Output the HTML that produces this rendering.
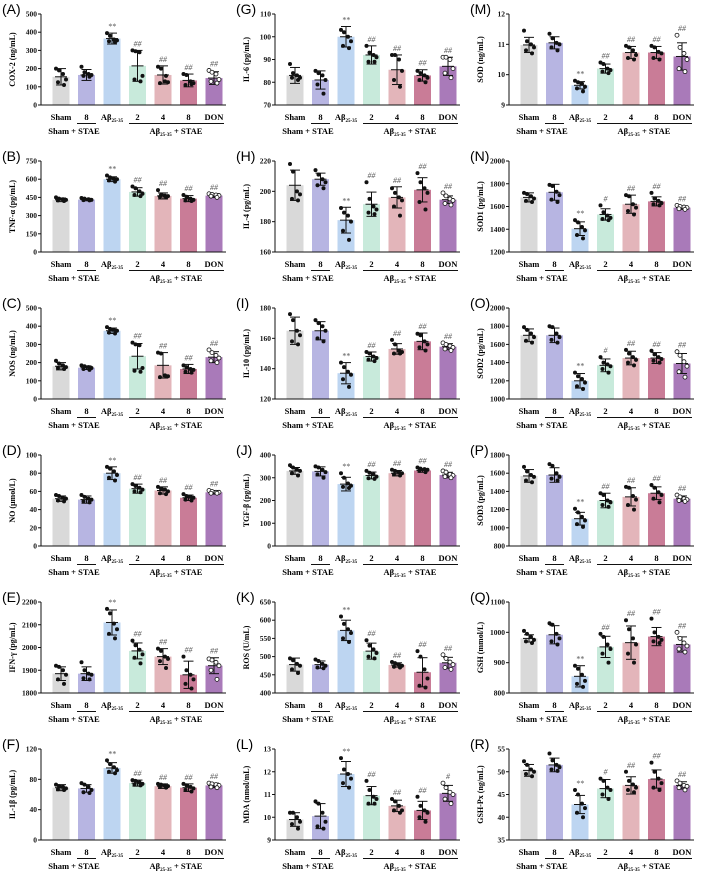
<!DOCTYPE html>
<html><head><meta charset="utf-8">
<style>
html,body{margin:0;padding:0;background:#fff;}
svg{display:block;font-family:"Liberation Serif",serif;}
</style></head>
<body>
<svg id="fig" width="702" height="873" viewBox="0 0 702 873" xmlns="http://www.w3.org/2000/svg"></svg>
<script>
const panelLetters = ['A','B','C','D','E','F','G','H','I','J','K','L','M','N','O','P','Q','R'];
const yTitles = ['COX-2 (ng/mL)','TNF-α (pg/mL)','NOS (ng/mL)','NO (μmol/L)','IFN-γ (pg/mL)','IL-1β (pg/mL)',
 'IL-6 (pg/mL)','IL-4 (pg/mL)','IL-10 (pg/mL)','TGF-β (pg/mL)','ROS (U/mL)','MDA (nmol/mL)',
 'SOD (ng/mL)','SOD1 (pg/mL)','SOD2 (pg/mL)','SOD3 (pg/mL)','GSH (mmol/L)','GSH-Px (ng/mL)'];
const yMins = [0,0,0,0,1800,0, 70,160,120,0,400,9, 9,1200,1000,800,800,35];
const yMaxs = [500,750,500,100,2200,120, 110,220,180,400,650,13, 12,2000,2000,1800,1100,55];
const yStep = [100,150,100,20,100,40, 10,20,20,100,50,1, 1,200,200,200,100,5];
const categories = ['Sham','8','Aβ','2','4','8','DON'];
const means = [
 [155,165,365,215,165,135,148],[430,432,600,495,462,440,465],[180,172,375,235,185,165,230],
 [52,51,80,63,61,53,59],[1885,1885,2110,1985,1960,1880,1920],[69,68,95,75,71,69,72],
 [83,81,100,92,85.5,83,87],[204,208,181,191.5,196,201,194.5],[165,165,137,148,153,158,154.5],
 [330,328,272,310,320,332,312],[478,478,572,515,477,457,483],[9.9,10.05,11.9,10.95,10.5,10.3,11.05],
 [10.98,11.05,9.65,10.2,10.73,10.73,10.6],[1680,1725,1405,1530,1620,1645,1590],[1700,1700,1200,1370,1450,1450,1390],
 [1570,1580,1100,1300,1340,1380,1320],[980,992,855,952,966,986,960],[50.3,51.5,42.8,46.3,47,48.4,47]];
const sds = [
 [45,30,30,85,50,35,35],[15,10,20,35,25,25,15],[20,10,15,70,70,25,30],
 [3,4,7,5,4,3,2],[30,30,55,35,35,60,35],[4,5,7,4,3,5,3],
 [3.5,4,4.5,4,6.5,2.5,4],[10,4,8.5,8,7,8,2.5],[9,6,7,3,3.5,5.5,2],
 [15,20,30,15,12,8,12],[18,10,28,22,6,40,15],[0.3,0.55,0.55,0.4,0.25,0.4,0.35],
 [0.25,0.2,0.12,0.15,0.2,0.2,0.45],[40,70,60,50,80,40,15],[70,80,80,70,75,60,110],
 [70,80,70,80,100,70,30],[12,30,35,35,55,30,25],[1.3,1.5,2,2,1.9,2,0.8]];
const sigs = [
 ['','','**','##','##','##','##'],['','','**','##','##','##','##'],['','','**','##','##','##','##'],
 ['','','**','##','##','##','##'],['','','**','##','##','##','##'],['','','**','##','##','##','##'],
 ['','','**','##','##','##','##'],['','','**','##','##','##','##'],['','','**','##','##','##','##'],
 ['','','**','##','##','##','##'],['','','**','##','##','##','##'],['','','**','##','##','##','#'],
 ['','','**','##','##','##','##'],['','','**','#','##','##','##'],['','','**','#','##','##','##'],
 ['','','**','##','##','##','##'],['','','**','##','##','##','##'],['','','**','#','##','##','##']];
const points = [
 [[200,190,170,140,125,110],[210,180,170,165,160,155],[395,380,360,355,350,345],[300,295,290,160,140,130],[210,200,130,125,120,160],[170,165,130,120,110,115],[190,180,170,140,130,120]],
 [[450,440,435,430,425,420],[445,440,435,430,428,425],[630,615,605,600,590,580],[540,525,500,480,470,460],[510,470,465,460,455,450],[470,455,440,430,425,420],[480,475,470,465,460,450]],
 [[210,195,185,175,170,165],[185,180,175,170,165,160],[395,385,380,375,365,360],[310,300,295,170,155,150],[255,250,130,125,120,125],[185,175,165,160,150,145],[270,255,240,225,210,200]],
 [[56,55,53,52,50,49],[56,54,52,51,49,48],[87,85,82,78,75,72],[68,66,64,62,60,59],[65,63,62,60,58,57],[57,55,54,53,51,50],[61,60,59,59,58,58]],
 [[1920,1915,1900,1880,1860,1840],[1935,1900,1885,1880,1865,1860],[2170,2150,2105,2080,2060,2040],[2030,2010,1990,1970,1955,1930],[1995,1985,1960,1950,1940,1910],[1960,1900,1880,1860,1840,1820],[1950,1945,1935,1920,1900,1860]],
 [[73,71,70,68,67,66],[75,73,70,66,63,62],[105,100,96,92,90,88],[79,78,76,74,73,72],[74,73,72,71,70,69],[74,72,70,68,66,64],[75,74,73,72,70,69]],
 [[88,84,83,82,82,81],[85,84,83,81,79,75],[103,102,100,98,96,95],[96,93,92,91,89,89],[92,92,90,85,81,78],[85,84,83,82,81,80],[91,91,90,86,84,82]],
 [[218,213,200,198,195,194],[214,211,208,206,204,202],[189,186,184,180,174,168],[206,195,190,188,186,185],[202,199,196,194,190,184],[212,206,202,199,193,188],[199,197,195,194,192,191]],
 [[176,172,165,162,158,156],[172,170,168,165,160,158],[144,141,138,136,133,128],[151,150,148,147,146,145],[159,156,152,151,150,150],[163,162,158,156,154,152],[157,156,155,154,153,152]],
 [[355,345,335,330,320,310],[350,345,335,325,315,300],[320,300,275,265,260,255],[330,322,315,305,298,295],[335,330,325,320,315,310],[345,340,338,335,330,325],[330,325,315,310,305,300]],
 [[495,490,480,475,465,455],[492,488,480,475,470,468],[610,590,575,565,550,540],[545,530,520,510,500,495],[485,482,478,475,472,470],[515,500,465,440,420,415],[505,495,485,478,470,465]],
 [[10.2,10.2,10.0,9.8,9.7,9.5],[10.7,10.6,10.2,9.8,9.6,9.5],[12.6,12.1,11.9,11.7,11.5,11.3],[11.6,11.2,10.9,10.8,10.6,10.6],[10.8,10.7,10.5,10.3,10.3,10.2],[10.9,10.5,10.3,10.2,10.0,9.8],[11.5,11.3,11.1,11.0,10.8,10.6]],
 [[11.45,11.1,11.0,10.9,10.8,10.7],[11.35,11.2,11.05,11.0,10.9,10.8],[9.8,9.75,9.7,9.6,9.55,9.45],[10.4,10.35,10.2,10.15,10.1,10.05],[10.95,10.9,10.8,10.65,10.55,10.5],[10.95,10.9,10.75,10.7,10.55,10.5],[11.3,10.9,10.7,10.5,10.2,10.1]],
 [[1720,1710,1690,1670,1650,1640],[1790,1780,1730,1700,1660,1640],[1480,1460,1420,1390,1350,1320],[1610,1550,1520,1500,1490,1480],[1700,1690,1620,1590,1560,1530],[1720,1670,1650,1630,1620,1610],[1610,1600,1595,1590,1580,1575]],
 [[1790,1760,1720,1680,1640,1620],[1800,1790,1720,1680,1650,1620],[1290,1250,1220,1180,1140,1110],[1460,1400,1380,1360,1330,1290],[1540,1500,1460,1430,1400,1370],[1530,1490,1460,1440,1420,1400],[1520,1480,1410,1360,1300,1240]],
 [[1670,1620,1580,1560,1520,1500],[1700,1680,1600,1560,1540,1520],[1210,1170,1120,1080,1040,1010],[1380,1360,1300,1280,1250,1230],[1450,1440,1350,1310,1250,1200],[1470,1440,1390,1360,1320,1280],[1360,1340,1320,1310,1300,1290]],
 [[1005,995,985,975,970,965],[1030,1025,995,980,970,960],[890,880,860,840,830,820],[995,985,960,945,930,900],[1040,1010,980,960,930,900],[1045,1000,985,975,970,965],[1000,980,965,955,945,935]],
 [[52.3,51.5,50.5,50,49.5,49],[54,52.5,51.5,51,50.5,50.2],[46,45,43,42,41,40],[48.5,48,46.5,46,45,44],[50,48,47.2,46.5,46,45.5],[52,50,48.5,47.5,46.5,46],[48,47.5,47,46.8,46.5,46]]];

const colors = ['#d9d9d9','#b7b5e2','#bdd5f1','#c8eadb','#e3b5ba','#c97c97','#a97ab9'];
const NS = 'http://www.w3.org/2000/svg';
const svg = document.getElementById('fig');
function mk(tag, attrs, parent){
  const e = document.createElementNS(NS, tag);
  for (const k in attrs) e.setAttribute(k, attrs[k]);
  parent.appendChild(e); return e;
}
const jit = [-5,-2,2,5,-3,3];

for (let p = 0; p < 18; p++) {
  const col = Math.floor(p / 6), row = p % 6;
  const ox = col * 234, oy = row * 147;
  const g = mk('g', {transform: `translate(${ox},${oy})`}, svg);
  
  
  const x0 = 41, yTop = 14, yBot = 105;
  const yScale = v => yBot - (v - yMins[p]) / (yMaxs[p] - yMins[p]) * (yBot - yTop);
  const xScale = i => 61 + i * 25.5;

  const lab = mk('text', {x: 2, y: 14, 'font-family': '"Liberation Sans",sans-serif', 'font-size': 14}, g);
  lab.textContent = '(' + panelLetters[p] + ')';
  
  

  const yt = mk('text', {x: 0, y: 0, transform: `translate(15,${(yTop + yBot) / 2}) rotate(-90)`, 'text-anchor': 'middle', 'font-size': 8, 'font-weight': 'bold'}, g);
  yt.textContent = yTitles[p];
  
  

  // bars
  for (let i = 0; i < 7; i++) {
    const cx = xScale(i), m = means[p][i], s = sds[p][i];
    const b = mk('rect', {x: cx - 8.5, y: yScale(m), width: 17, height: yBot - yScale(m), fill: colors[i]}, g);
    
    
    const eg = mk('g', {stroke: '#111', 'stroke-width': 1}, g);
    
    
    mk('line', {x1: cx, x2: cx, y1: yScale(m - s), y2: yScale(m + s)}, eg);
    mk('line', {x1: cx - 5, x2: cx + 5, y1: yScale(m - s), y2: yScale(m - s)}, eg);
    mk('line', {x1: cx - 5, x2: cx + 5, y1: yScale(m + s), y2: yScale(m + s)}, eg);
    mk('line', {x1: cx - 6, x2: cx + 6, y1: yScale(m), y2: yScale(m)}, eg);
    let topV = m + s;
    points[p][i].forEach((v, k) => {
      if (v > topV) topV = v;
      const c = mk('circle', {cx: cx + jit[k], cy: yScale(v), r: 2,
        fill: i === 6 ? '#fff' : '#111', stroke: '#111', 'stroke-width': i === 6 ? 0.8 : 0}, g);
      
      
    });
    if (sigs[p][i]) {
      const st = mk('text', {x: cx, y: yScale(topV) - 4, 'text-anchor': 'middle', 'font-size': 8, 'font-style': 'italic', fill: '#555'}, g);
      st.textContent = sigs[p][i];
      
      
    }
    const cl = mk('text', {x: cx, y: 120, 'text-anchor': 'middle', 'font-size': 8.5, 'font-weight': 'bold'}, g);
    
    
    if (i === 2) {
      cl.textContent = 'Aβ';
      const sub = mk('tspan', {'font-size': 5, dy: 2}, cl);
      sub.textContent = '25-35';
    } else cl.textContent = categories[i];
  }

  // axes
  const ax = mk('g', {stroke: '#111', 'stroke-width': 1}, g);
  
  
  mk('line', {x1: x0, x2: x0, y1: yTop, y2: yBot}, ax);
  mk('line', {x1: x0, x2: 226, y1: yBot, y2: yBot}, ax);
  for (let v = yMins[p]; v <= yMaxs[p] + 1e-9; v += yStep[p]) {
    mk('line', {x1: x0 - 3, x2: x0, y1: yScale(v), y2: yScale(v)}, ax);
    const tl = mk('text', {x: x0 - 4, y: yScale(v) + 2.5, 'text-anchor': 'end', 'font-size': 7.5, 'font-weight': 'bold', stroke: 'none', fill: '#111'}, g);
    tl.textContent = String(Math.round(v * 100) / 100);
    
    
  }
  // group lines
  mk('line', {x1: 77, x2: 96, y1: 123.5, y2: 123.5}, ax);
  mk('line', {x1: 129, x2: 224, y1: 123.5, y2: 123.5}, ax);
  const g1 = mk('text', {x: 74, y: 134, 'text-anchor': 'middle', 'font-size': 8.5, 'font-weight': 'bold'}, g);
  g1.textContent = 'Sham + STAE';
  
  
  const g2 = mk('text', {x: 176, y: 134, 'text-anchor': 'middle', 'font-size': 8.5, 'font-weight': 'bold'}, g);
  g2.textContent = 'Aβ';
  const s2 = mk('tspan', {'font-size': 5, dy: 2}, g2);
  s2.textContent = '25-35';
  const s3 = mk('tspan', {dy: -2}, g2);
  s3.textContent = ' + STAE';
  
  
}
</script>
</body></html>
